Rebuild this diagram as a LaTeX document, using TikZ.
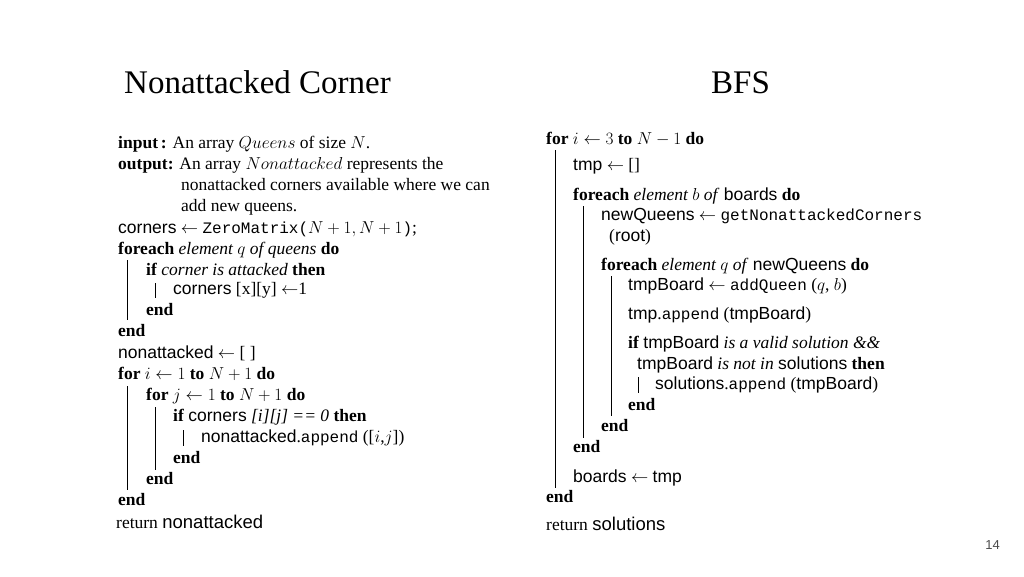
\documentclass[tikz,border=0pt]{standalone}
\usepackage{fontspec}
\setmainfont{Liberation Serif}
\setsansfont{Liberation Sans}
\setmonofont{Liberation Mono}
\begin{document}
\begin{tikzpicture}[x=1pt,y=-1pt]
\useasboundingbox (0,0) rectangle (1024,576);
\tikzset{ln/.style={anchor=base west,inner sep=0pt,font=\fontsize{17.5}{20}\selectfont},
 ttl/.style={anchor=base west,inner sep=0pt,font=\fontsize{33}{38}\selectfont},
 bar/.style={line width=0.7pt}}
\newcommand\sfx[1]{\textsf{#1}}
\newcommand\ttx[1]{\texttt{\fontsize{16}{18}\selectfont #1}}
\node[ttl] (t1) at (124,93) {Nonattacked Corner};
\node[ttl] (t2) at (711,93) {BFS};
% left
\node[ln] (l1) at (118,148) {\textbf{input\,:} An array $Queens$ of size $N$.};
\node[ln] (l2) at (118,169) {\textbf{output:} An array $Nonattacked$ represents the};
\node[ln] (l3) at (181,190) {nonattacked corners available where we can};
\node[ln] (l4) at (181,211) {add new queens.};
\node[ln] (l5) at (118,233) {\sfx{corners} $\leftarrow$ \ttx{ZeroMatrix(}$N+1,N+1$\ttx{)};};
\node[ln] (l6) at (118,254) {\textbf{foreach} \emph{element $q$ of queens} \textbf{do}};
\node[ln] (l7) at (146,275) {\textbf{if} \emph{corner is attacked} \textbf{then}};
\node[ln] (l8) at (173,294) {\sfx{corners} [x][y] $\leftarrow$1};
\node[ln] (l9) at (146,315) {\textbf{end}};
\node[ln] (l10) at (118,336) {\textbf{end}};
\node[ln] (l11) at (118,358) {\sfx{nonattacked} $\leftarrow$ [ ]};
\node[ln] (l12) at (118,379) {\textbf{for} $i\leftarrow1$ \textbf{to} $N+1$ \textbf{do}};
\node[ln] (l13) at (146,400) {\textbf{for} $j\leftarrow1$ \textbf{to} $N+1$ \textbf{do}};
\node[ln] (l14) at (173,421) {\textbf{if} \sfx{corners} \emph{[i][j] == 0} \textbf{then}};
\node[ln] (l15) at (201,442) {\sfx{nonattacked}.\ttx{append} ([$i$,$j$])};
\node[ln] (l16) at (173,463) {\textbf{end}};
\node[ln] (l17) at (146,484) {\textbf{end}};
\node[ln] (l18) at (118,505) {\textbf{end}};
\node[ln] (l19) at (116,528) {return \sfx{\fontsize{18.5}{20}\selectfont nonattacked}};
\draw[bar] (127,260)--(127,320);
\draw[bar] (155,283)--(155,298);
\draw[bar] (127,386)--(127,490);
\draw[bar] (155,407)--(155,470);
\draw[bar] (183,430)--(183,446);
% right
\node[ln] (r1) at (546,144) {\textbf{for} $i\leftarrow3$ \textbf{to} $N-1$ \textbf{do}};
\node[ln] (r2) at (573,170) {\sfx{tmp} $\leftarrow$ []};
\node[ln] (r3) at (573,200) {\textbf{foreach} \emph{element $b$ of} \sfx{boards} \textbf{do}};
\node[ln] (r4) at (601,220) {\sfx{newQueens} $\leftarrow$ \ttx{getNonattackedCorners}};
\node[ln] (r5) at (609,241) {(\sfx{root})};
\node[ln] (r6) at (601,270) {\textbf{foreach} \emph{element $q$ of} \sfx{newQueens} \textbf{do}};
\node[ln] (r7) at (628,290) {\sfx{tmpBoard} $\leftarrow$ \ttx{addQueen} ($q$, $b$)};
\node[ln] (r8) at (628,319) {\sfx{tmp}.\ttx{append} (\sfx{tmpBoard})};
\node[ln] (r9) at (628,348) {\textbf{if} \sfx{tmpBoard} \emph{is a valid solution \&\&}};
\node[ln] (r10) at (637,369) {\sfx{tmpBoard} \emph{is not in} \sfx{solutions} \textbf{then}};
\node[ln] (r11) at (655,389) {\sfx{solutions}.\ttx{append} (\sfx{tmpBoard})};
\node[ln] (r12) at (628,410) {\textbf{end}};
\node[ln] (r13) at (601,431) {\textbf{end}};
\node[ln] (r14) at (573,452) {\textbf{end}};
\node[ln] (r15) at (573,482) {\sfx{boards} $\leftarrow$ \sfx{tmp}};
\node[ln] (r16) at (546,502) {\textbf{end}};
\node[ln] (r17) at (546,530) {return \sfx{\fontsize{18.5}{20}\selectfont solutions}};
\draw[bar] (555,150)--(555,488);
\draw[bar] (583,206)--(583,438);
\draw[bar] (611,276)--(611,416);
\draw[bar] (638,377)--(638,393);
\node[anchor=base east,inner sep=0pt,font=\sffamily\fontsize{13}{15}\selectfont,text=black!70] (pg) at (1000,549) {14};
\end{tikzpicture}
\end{document}
